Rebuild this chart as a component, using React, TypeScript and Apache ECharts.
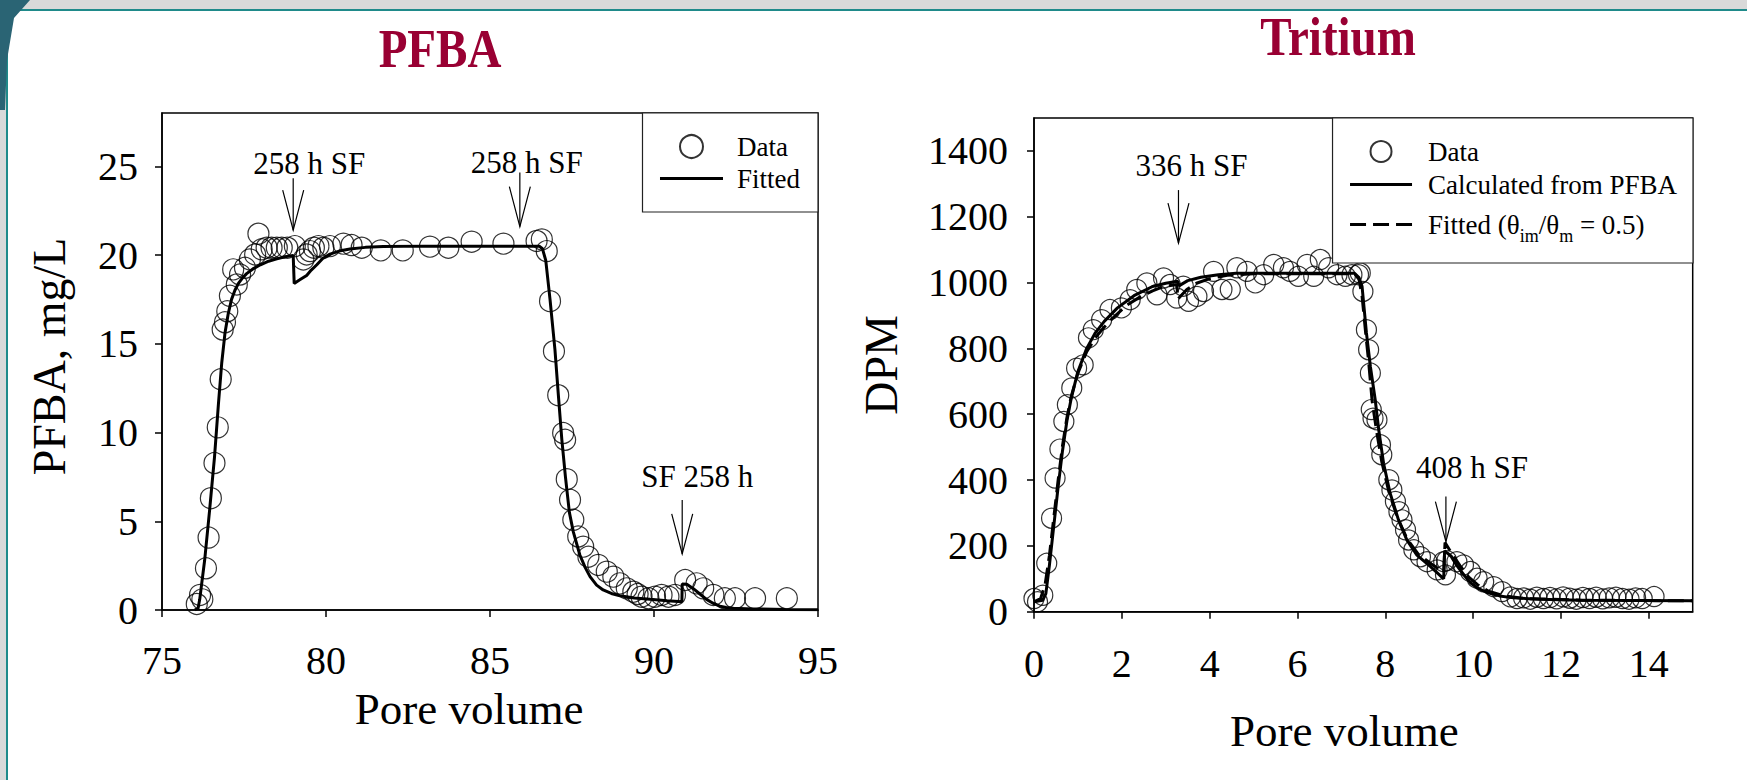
import React, { useEffect, useRef } from "react";
import * as echarts from "echarts";

const FONT = "'Liberation Serif', 'Times New Roman', serif";

// ---------- PFBA (left) ----------
const pfbaXTicks = [75, 80, 85, 90, 95];
const pfbaYTicks = [0, 5, 10, 15, 20, 25];
const pfbaData: number[][] = [
  [76.06, 0.34], [76.16, 0.85], [76.23, 0.6], [76.34, 2.35], [76.42, 4.08], [76.49, 6.3],
  [76.6, 8.28], [76.7, 10.29], [76.79, 13.0], [76.85, 15.8], [76.92, 16.21], [76.99, 16.83],
  [77.07, 17.7], [77.17, 19.19], [77.28, 18.34], [77.38, 18.9], [77.53, 19.28], [77.68, 19.75],
  [77.84, 20.03], [77.94, 21.2], [78.04, 20.32], [78.19, 20.41], [78.34, 20.41], [78.5, 20.41],
  [78.65, 20.41], [78.82, 20.41], [79.05, 20.5], [79.31, 19.75], [79.41, 20.03], [79.51, 20.22],
  [79.63, 20.41], [79.77, 20.5], [79.92, 20.41], [80.12, 20.5], [80.53, 20.64], [80.78, 20.56],
  [81.09, 20.41], [81.67, 20.26], [82.34, 20.26], [83.17, 20.47], [83.73, 20.41], [84.44, 20.75],
  [85.41, 20.64], [86.42, 20.79], [86.58, 20.88], [86.73, 20.22], [86.83, 17.4], [86.95, 14.58],
  [87.08, 12.1], [87.23, 9.97], [87.29, 9.59], [87.34, 7.37], [87.44, 6.21], [87.54, 5.08],
  [87.69, 4.14], [87.84, 3.57], [88.0, 3.0], [88.3, 2.54], [88.56, 2.16], [88.76, 1.88],
  [88.96, 1.5], [89.17, 1.22], [89.37, 1.03], [89.5, 0.9], [89.62, 0.75], [89.83, 0.66],
  [90.03, 0.75], [90.23, 0.85], [90.44, 0.75], [90.64, 0.85], [90.95, 1.69], [91.3, 1.5],
  [91.5, 1.22], [91.81, 0.85], [92.16, 0.66], [92.47, 0.66], [93.08, 0.66], [94.05, 0.66],
];
const pfbaFit: number[][] = [
  [76.0, 0], [76.1, 0.1], [76.15, 0.6], [76.3, 2.8], [76.45, 5.6], [76.6, 8.6], [76.72, 11.6],
  [76.82, 13.9], [76.92, 15.6], [77.02, 16.7], [77.12, 17.5], [77.22, 18.0], [77.33, 18.4],
  [77.45, 18.7], [77.58, 18.95], [77.8, 19.25], [78.0, 19.45], [78.25, 19.65], [78.5, 19.78],
  [78.75, 19.9], [79.0, 19.98], [79.03, 18.4], [79.2, 18.6], [79.41, 18.85], [79.55, 19.15],
  [79.72, 19.45], [79.9, 19.8], [80.12, 20.05], [80.4, 20.22], [80.73, 20.34], [81.2, 20.43],
  [81.75, 20.48], [83.0, 20.5], [86.5, 20.5], [86.6, 20.35], [86.7, 19.7], [86.83, 17.5],
  [86.98, 14.67], [87.08, 12.2], [87.19, 9.6], [87.3, 7.5], [87.42, 5.5], [87.54, 4.4],
  [87.74, 3.1], [87.9, 2.4], [88.05, 1.88], [88.25, 1.4], [88.45, 1.13], [88.7, 0.93],
  [88.96, 0.8], [89.4, 0.68], [89.88, 0.6], [90.4, 0.52], [90.85, 0.46], [90.86, 1.47],
  [91.0, 1.45], [91.2, 1.2], [91.4, 0.9], [91.6, 0.6], [91.8, 0.38], [92.01, 0.22],
  [92.2, 0.14], [92.42, 0.1], [93.0, 0.06], [94.0, 0.03], [95.0, 0.02],
];
const pfbaNotes: number[][] = [[79.0, 21.4], [85.91, 21.6], [90.86, 3.16]];
const pfbaNoteLabels = ["258 h SF", "258 h SF", "SF 258 h"];

// ---------- Tritium (right) ----------
const tritXTicks = [0, 2, 4, 6, 8, 10, 12, 14];
const tritYTicks = [0, 200, 400, 600, 800, 1000, 1200, 1400];
const tritData: number[][] = [
  [0.0, 40], [0.08, 30], [0.2, 50], [0.29, 147], [0.4, 284], [0.48, 406], [0.59, 494],
  [0.68, 578], [0.76, 629], [0.86, 680], [0.97, 740], [1.12, 750], [1.24, 832], [1.35, 857],
  [1.54, 887], [1.73, 918], [1.99, 923], [2.19, 948], [2.34, 979], [2.57, 999], [2.8, 963],
  [2.95, 1014], [3.1, 994], [3.25, 953], [3.4, 989], [3.52, 943], [3.71, 958], [3.86, 973],
  [4.09, 1034], [4.28, 979], [4.47, 979], [4.62, 1045], [4.85, 1034], [5.04, 999], [5.23, 1024],
  [5.46, 1055], [5.68, 1045], [5.83, 1034], [6.02, 1019], [6.22, 1055], [6.37, 1019], [6.52, 1070],
  [6.71, 1045], [6.9, 1024], [7.09, 1019], [7.24, 1024], [7.39, 1024], [7.43, 1029], [7.49, 973],
  [7.57, 857], [7.62, 796], [7.66, 725], [7.68, 614], [7.72, 588], [7.81, 583], [7.89, 507],
  [7.92, 477], [8.08, 401], [8.15, 370], [8.23, 335], [8.31, 304], [8.38, 279], [8.46, 249],
  [8.53, 218], [8.65, 188], [8.8, 167], [8.95, 152], [9.18, 127], [9.33, 152], [9.37, 112],
  [9.4, 155], [9.63, 152], [9.78, 142], [9.94, 122], [10.09, 102], [10.24, 91], [10.47, 76],
  [10.66, 61], [10.85, 45], [11.0, 40], [11.15, 42], [11.3, 38], [11.45, 44], [11.6, 40],
  [11.75, 43], [11.9, 39], [12.05, 45], [12.2, 41], [12.35, 38], [12.5, 43], [12.65, 40],
  [12.8, 44], [12.95, 39], [13.1, 42], [13.25, 44], [13.4, 40], [13.55, 38], [13.7, 42],
  [13.85, 40], [14.12, 46],
];
const tritCalc: number[][] = [
  [0, 30], [0.2, 35], [0.27, 55], [0.35, 140], [0.45, 260], [0.55, 380], [0.65, 490],
  [0.75, 580], [0.85, 650], [1.0, 730], [1.2, 800], [1.4, 848], [1.6, 882], [1.9, 923],
  [2.3, 962], [2.7, 988], [3.0, 998], [3.27, 1004], [3.3, 990], [3.5, 1006], [3.8, 1016],
  [4.2, 1024], [4.6, 1028], [7.3, 1028], [7.4, 1015], [7.47, 989], [7.57, 847], [7.66, 745],
  [7.77, 644], [7.85, 553], [7.96, 451], [8.11, 360], [8.3, 279], [8.49, 218], [8.72, 172],
  [9.03, 137], [9.33, 100], [9.35, 185], [9.5, 168], [9.63, 140], [9.8, 110], [9.94, 88],
  [10.1, 72], [10.32, 58], [10.6, 48], [10.92, 42], [11.5, 38], [12.44, 35], [15, 33],
];
const tritFit: number[][] = [
  [0, 30], [0.15, 40], [0.25, 80], [0.35, 170], [0.45, 285], [0.55, 400], [0.65, 505],
  [0.75, 590], [0.85, 655], [1.0, 725], [1.2, 790], [1.4, 833], [1.6, 865], [1.8, 893],
  [2.1, 930], [2.4, 955], [2.7, 975], [2.95, 988], [3.25, 994], [3.28, 950], [3.48, 979],
  [3.7, 998], [4.0, 1012], [4.4, 1022], [5.0, 1027], [7.3, 1027], [7.4, 1010], [7.47, 960],
  [7.55, 850], [7.62, 760], [7.7, 640], [7.8, 550], [7.92, 455], [8.08, 365], [8.28, 285],
  [8.5, 220], [8.75, 175], [9.05, 145], [9.33, 120], [9.36, 210], [9.5, 180], [9.7, 140],
  [9.9, 105], [10.1, 82], [10.35, 62], [10.7, 48], [11.2, 40], [12.5, 35], [15, 33],
];
const tritNotes: number[][] = [[3.29, 1120], [9.38, 213]];
const tritNoteLabels = ["336 h SF", "408 h SF"];

// annotation layout (pixels relative to arrow tip)
const pfbaNoteLayout = [
  { len: 52, dx: 16, dy: -67 },
  { len: 54, dx: 7, dy: -64 },
  { len: 54, dx: 15, dy: -77 },
];
const tritNoteLayout = [
  { len: 53, dx: 13, dy: -78 },
  { len: 45, dx: 26, dy: -74 },
];

function noteSeries(axisIndex: number, points: number[][], labels: string[], layout: any[]) {
  return {
    type: "custom",
    xAxisIndex: axisIndex,
    yAxisIndex: axisIndex,
    data: points,
    silent: true,
    z: 6,
    renderItem: (params: any, api: any) => {
      const p = api.coord([api.value(0), api.value(1)]);
      const L = layout[params.dataIndex];
      const tx = p[0];
      const ty = p[1];
      return {
        type: "group",
        children: [
          {
            type: "line",
            shape: { x1: tx, y1: ty - L.len, x2: tx, y2: ty },
            style: { stroke: "#000", lineWidth: 1.2 },
          },
          {
            type: "polyline",
            shape: { points: [[tx - 10.5, ty - 40], [tx, ty], [tx + 10.5, ty - 40]] },
            style: { stroke: "#000", fill: null, lineWidth: 1.2 },
          },
          {
            type: "text",
            x: tx + L.dx,
            y: ty + L.dy,
            style: {
              text: labels[params.dataIndex],
              fontSize: 31,
              fontFamily: FONT,
              fill: "#000",
              align: "center",
              verticalAlign: "middle",
            },
          },
        ],
      };
    },
  };
}

const plainNum = (v: number) => String(v);

function valueAxis(gridIndex: number, min: number, max: number, ticks: number[], extra: any) {
  return {
    gridIndex,
    type: "value",
    min,
    max,
    axisLine: { show: true, onZero: false, lineStyle: { color: "#000", width: 1.5 } },
    axisTick: { show: true, inside: false, length: 7, customValues: ticks, lineStyle: { color: "#000", width: 1.5 } },
    splitLine: { show: false },
    ...extra,
  };
}

const legendBase = {
  orient: "vertical",
  selectedMode: false,
  borderColor: "#222",
  borderWidth: 1.2,
  borderRadius: 0,
  backgroundColor: "#fff",
  align: "left",
  lineStyle: { width: 3 },
};

const hideSymbol = { opacity: 0 };

export default function App() {
  const ref = useRef<HTMLDivElement>(null);
  useEffect(() => {
    if (!ref.current) return;
    const chart = echarts.init(ref.current, null, { renderer: "svg" });
    const scatterStyle = { color: "rgba(255,255,255,0)", borderColor: "#000", borderWidth: 1.2 };
    const option: any = {
      animation: false,
      backgroundColor: "#fff",
      graphic: [
        { type: "rect", shape: { x: 0, y: 0, width: 1747, height: 9 }, style: { fill: "#d9d9d9" }, silent: true },
        { type: "rect", shape: { x: 0, y: 9, width: 1747, height: 2 }, style: { fill: "#1f8a8a" }, silent: true },
        { type: "rect", shape: { x: 0, y: 0, width: 6, height: 780 }, style: { fill: "#d9d9d9" }, silent: true },
        { type: "rect", shape: { x: 6, y: 9, width: 2, height: 771 }, style: { fill: "#1f8a8a" }, silent: true },
        {
          type: "polygon",
          shape: { points: [[0, 0], [30, 0], [14, 18], [7, 60], [5, 110], [0, 110]] },
          style: { fill: "#2a6474" },
          silent: true,
        },
        {
          type: "text", x: 440, y: 49, scaleX: 0.87,
          style: { text: "PFBA", fontSize: 54, fontWeight: "bold", fontFamily: FONT, fill: "#990033", align: "center", verticalAlign: "middle" },
        },
        {
          type: "text", x: 1338, y: 37, scaleX: 0.87,
          style: { text: "Tritium", fontSize: 54, fontWeight: "bold", fontFamily: FONT, fill: "#990033", align: "center", verticalAlign: "middle" },
        },
      ],
      grid: [
        { left: 162, top: 113, width: 656, height: 497, show: true, borderColor: "#000", borderWidth: 1.5, backgroundColor: "transparent" },
        { left: 1034, top: 118, width: 658.7, height: 493.7, show: true, borderColor: "#000", borderWidth: 1.5, backgroundColor: "transparent" },
      ],
      xAxis: [
        valueAxis(0, 75, 95, pfbaXTicks, {
          name: "Pore volume", nameLocation: "middle", nameGap: 76,
          nameTextStyle: { fontSize: 45, fontFamily: FONT, color: "#000", padding: [0, 42, 0, 0] },
          axisLabel: { customValues: pfbaXTicks, formatter: plainNum, fontSize: 40, fontFamily: FONT, color: "#000", margin: 30 },
        }),
        valueAxis(1, 0, 15, tritXTicks, {
          name: "Pore volume", nameLocation: "middle", nameGap: 97,
          nameTextStyle: { fontSize: 45, fontFamily: FONT, color: "#000", padding: [0, 38, 0, 0] },
          axisLabel: { customValues: tritXTicks, formatter: plainNum, fontSize: 40, fontFamily: FONT, color: "#000", margin: 32 },
        }),
      ],
      yAxis: [
        valueAxis(0, 0, 28, pfbaYTicks, {
          name: "PFBA, mg/L", nameLocation: "middle", nameGap: 90,
          nameTextStyle: { fontSize: 46, fontFamily: FONT, color: "#000", padding: [0, 0, 0, 10] },
          axisLabel: { customValues: pfbaYTicks, formatter: plainNum, fontSize: 40, fontFamily: FONT, color: "#000", margin: 24 },
        }),
        valueAxis(1, 0, 1500, tritYTicks, {
          name: "DPM", nameLocation: "middle", nameGap: 130,
          nameTextStyle: { fontSize: 46, fontFamily: FONT, color: "#000" },
          axisLabel: { customValues: tritYTicks, formatter: plainNum, fontSize: 40, fontFamily: FONT, color: "#000", margin: 26 },
        }),
      ],
      legend: [
        {
          ...legendBase,
          data: ["Data", { name: "Fitted", itemStyle: hideSymbol }],
          right: 929,
          top: 113,
          padding: [20, 18, 20, 16],
          itemWidth: 63,
          itemHeight: 23,
          itemGap: 5,
          textStyle: { fontFamily: FONT, fontSize: 27, color: "#000", lineHeight: 23, padding: [0, 0, 0, 9] },
        },
        {
          ...legendBase,
          data: [
            "Data",
            { name: "Calculated from PFBA", itemStyle: hideSymbol },
            { name: "Fitted (θim/θm = 0.5)", itemStyle: hideSymbol },
          ],
          right: 54,
          top: 118,
          padding: [20, 16, 18, 16],
          itemWidth: 62,
          itemHeight: 21,
          itemGap: 6,
          formatter: (name: string) =>
            name.indexOf("Fitted (") === 0 ? "{n|Fitted (θ}{s|im}{n|/θ}{s|m}{n| = 0.5)}" : name,
          textStyle: {
            fontFamily: FONT, fontSize: 27, color: "#000", lineHeight: 21, padding: [0, 0, 0, 11],
            rich: {
              n: { fontFamily: FONT, fontSize: 27, color: "#000", lineHeight: 41 },
              s: { fontFamily: FONT, fontSize: 18, color: "#000", lineHeight: 16, verticalAlign: "bottom" },
            },
          },
        },
      ],
      series: [
        {
          type: "scatter", name: "Data", xAxisIndex: 0, yAxisIndex: 0, data: pfbaData,
          symbol: "circle", symbolSize: 21, itemStyle: scatterStyle, z: 2,
        },
        {
          type: "line", name: "Fitted", xAxisIndex: 0, yAxisIndex: 0, data: pfbaFit,
          symbol: "none", lineStyle: { color: "#000", width: 3 }, itemStyle: { color: "#000" }, z: 3,
        },
        noteSeries(0, pfbaNotes, pfbaNoteLabels, pfbaNoteLayout),
        {
          type: "scatter", name: "Data", xAxisIndex: 1, yAxisIndex: 1, data: tritData,
          symbol: "circle", symbolSize: 20, itemStyle: scatterStyle, z: 2,
        },
        {
          type: "line", name: "Calculated from PFBA", xAxisIndex: 1, yAxisIndex: 1, data: tritCalc,
          symbol: "none", lineStyle: { color: "#000", width: 3 }, itemStyle: { color: "#000" }, z: 3,
        },
        {
          type: "line", name: "Fitted (θim/θm = 0.5)", xAxisIndex: 1, yAxisIndex: 1, data: tritFit,
          symbol: "none", lineStyle: { color: "#000", width: 3, type: [16, 7] }, itemStyle: { color: "#000" }, z: 3,
        },
        noteSeries(1, tritNotes, tritNoteLabels, tritNoteLayout),
      ],
    };
    chart.setOption(option);
    return () => chart.dispose();
  }, []);
  return (
    <div
      ref={ref}
      style={{ position: "absolute", left: 0, top: 0, width: 1747, height: 780, background: "#fff" }}
    />
  );
}
